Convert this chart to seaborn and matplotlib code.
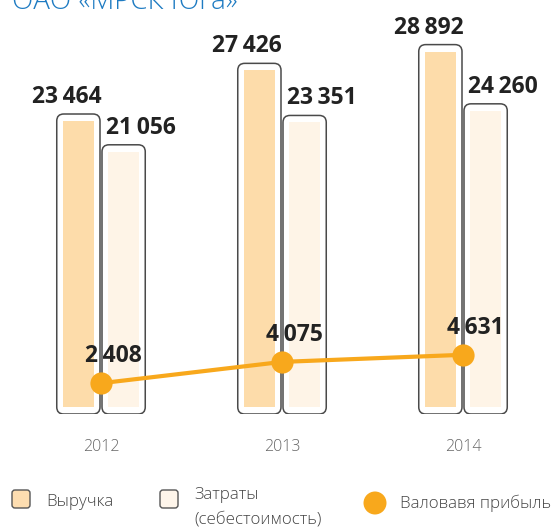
import numpy as np
import pandas as pd
import seaborn as sns
import matplotlib
matplotlib.use("Agg")
import matplotlib.pyplot as plt
from matplotlib.patches import FancyBboxPatch, Circle
from matplotlib.transforms import IdentityTransform

# ---- data ----
years = ["2012", "2013", "2014"]
revenue = [23464, 27426, 28892]
costs = [21056, 23351, 24260]
gross_profit = [2408, 4075, 4631]
series_names = ["Выручка", "Затраты (себестоимость)"]
legend_labels = ["Выручка", "Затраты", "(себестоимость)", "Валовавя прибыль"]
title = "ОАО «МРСК Юга»"

# ---- style ----
sns.set_theme(style="white")
plt.rcParams["font.family"] = ["Open Sans", "DejaVu Sans"]

REV_FILL = "#FDDCAA"
COST_FILL = "#FEF4E7"
EDGE = "#4a4a4a"
ORANGE = "#F8A81C"
TEXT = "#222222"

W, H = 555, 530
fig = plt.figure(figsize=(W / 100, H / 100), dpi=100)

ax_left_px, ax_width_px = 10.5, 543
ax_bottom_px, ax_height_px = 530 - 414, 381
ax = fig.add_axes([ax_left_px / W, ax_bottom_px / H, ax_width_px / W, ax_height_px / H])

df = pd.DataFrame({
    "year": years * 2,
    "value": revenue + costs,
    "series": [series_names[0]] * 3 + [series_names[1]] * 3,
})

sns.barplot(data=df, x="year", y="value", hue="series", order=years,
            hue_order=series_names, palette=[REV_FILL, COST_FILL],
            saturation=1, width=0.5, gap=0, linewidth=0, legend=False,
            ax=ax, zorder=1)

XMIN, XMAX = -0.5, 2.5
YMIN, YMAX = 0, 29800
ax.set_xlim(XMIN, XMAX)
ax.set_ylim(YMIN, YMAX)
dx = (XMAX - XMIN) / ax_width_px
dy = (YMAX - YMIN) / ax_height_px

for i, p in enumerate(list(ax.patches)):
    x0, w, h = p.get_x(), p.get_width(), p.get_height()
    is_rev = i < 3
    box = FancyBboxPatch((x0 + dx, 0), w - 2 * dx, h,
                         boxstyle=f"round,pad=0,rounding_size={7 * dx}",
                         mutation_aspect=dy / dx,
                         facecolor="white", edgecolor="none", zorder=0.5)
    ax.add_patch(box)
    outline = FancyBboxPatch((x0 + dx, 0), w - 2 * dx, h,
                             boxstyle=f"round,pad=0,rounding_size={7 * dx}",
                             mutation_aspect=dy / dx,
                             facecolor="none", edgecolor=EDGE, linewidth=1.1, zorder=2)
    ax.add_patch(outline)
    p.set_x(x0 + 7 * dx)
    p.set_width(w - 14 * dx)
    p.set_y(7 * dy)
    p.set_height(h - 14 * dy)
    cx = x0 + w / 2
    off = -12 if is_rev else 17
    ax.annotate(f"{h:,.0f}".replace(",", "\u2009"), (cx, h), xytext=(off, 11),
                textcoords="offset pixels", ha="center", va="baseline",
                fontsize=16.5, fontweight="bold", color=TEXT, zorder=5)

line_df = pd.DataFrame({"x": [0, 1, 2], "v": gross_profit})
sns.lineplot(data=line_df, x="x", y="v", ax=ax, color=ORANGE, linewidth=3,
             marker="o", markersize=16, markeredgewidth=0, zorder=4)
for xi, v in zip(line_df["x"], gross_profit):
    ax.annotate(f"{v:,.0f}".replace(",", "\u2009"), (xi, v), xytext=(12, 21),
                textcoords="offset pixels", ha="center", va="baseline",
                fontsize=16.5, fontweight="bold", color=TEXT, zorder=5)

ax.set_xticks(range(3))
ax.set_xticklabels(years, fontsize=11.5, color="#666666", fontweight="light")
ax.tick_params(axis="x", length=0, pad=18)
ax.set_yticks([])
ax.set_xlabel("")
ax.set_ylabel("")
for s in ax.spines.values():
    s.set_visible(False)

fig.text(12 / W, 1 - 9 / H, title, fontsize=20, color="#1E7BC2",
         ha="left", va="baseline", fontweight="light")

tr = IdentityTransform()
def sq(x, ytop, fc):
    b = FancyBboxPatch((x, H - ytop - 18), 18, 18,
                       boxstyle="round,pad=0,rounding_size=3",
                       facecolor=fc, edgecolor="#555555", linewidth=1.0,
                       transform=tr)
    fig.add_artist(b)

sq(12, 490, "#FDDDB0")
sq(160, 490, "#FEF5EA")
fig.add_artist(Circle((375, H - 503), 11.5, facecolor=ORANGE, edgecolor="none",
                      transform=tr))
LEG = "#444444"
LFS = 12.2
fig.text(46 / W, 1 - 502 / H, legend_labels[0], fontsize=LFS, color=LEG,
         ha="left", va="center", fontweight="light")
fig.text(194 / W, 1 - 495 / H, legend_labels[1], fontsize=LFS, color=LEG,
         ha="left", va="center", fontweight="light")
fig.text(194 / W, 1 - 520 / H, legend_labels[2], fontsize=LFS, color=LEG,
         ha="left", va="center", fontweight="light")
fig.text(400 / W, 1 - 503 / H, legend_labels[3], fontsize=LFS, color=LEG,
         ha="left", va="center", fontweight="light")

fig.savefig("out.png", dpi=100)
